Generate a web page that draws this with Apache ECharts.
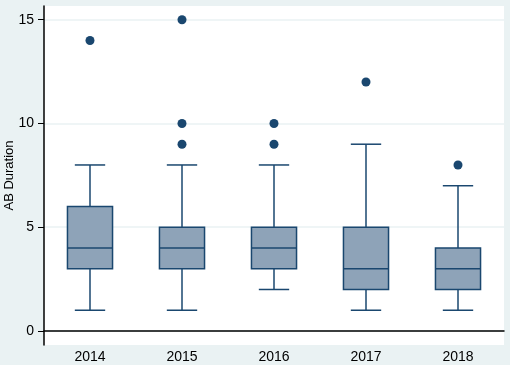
<!DOCTYPE html>
<html>
<head>
<meta charset="utf-8">
<script src="https://cdn.jsdelivr.net/npm/echarts@6/dist/echarts.min.js"></script>
<style>
  html, body { margin: 0; padding: 0; background: #eaf2f3; }
  #chart { width: 510px; height: 365px; }
</style>
</head>
<body>
<div id="chart"></div>
<script>
// years on the x axis
const years = ['2014', '2015', '2016', '2017', '2018'];
// five-number summaries per year
const whiskerLow = [1, 1, 2, 1, 1];
const q1 = [3, 3, 3, 2, 2];
const median = [4, 4, 4, 3, 3];
const q3 = [6, 5, 5, 5, 4];
const whiskerHigh = [8, 8, 8, 9, 7];
// outliers as [yearIndex, value]
const outliers = [[0, 14], [1, 9], [1, 10], [1, 15], [2, 9], [2, 10], [3, 12], [4, 8]];
const yTicks = [0, 5, 10, 15];

const navy = '#1a476f';
const boxFill = '#8ea3b8';

const boxData = years.map((y, i) => [i, whiskerLow[i], q1[i], median[i], q3[i], whiskerHigh[i]]);

const chart = echarts.init(document.getElementById('chart'), null, { renderer: 'canvas' });

chart.setOption({
  backgroundColor: '#eaf2f3',
  animation: false,
  textStyle: { fontFamily: 'Liberation Sans, Arial, sans-serif' },
  grid: {
    left: 44, right: 6, top: 6, bottom: 20,
    outerBoundsMode: 'none',
    containLabel: false,
    show: true, backgroundColor: '#ffffff', borderWidth: 0
  },
  xAxis: {
    type: 'category',
    data: years,
    boundaryGap: true,
    axisLine: { lineStyle: { color: '#000000', width: 1.5 } },
    axisTick: { show: false },
    axisLabel: { color: '#000000', fontSize: 14, margin: 5 },
    splitLine: { show: false }
  },
  yAxis: {
    type: 'value',
    min: -0.675,
    max: 15.66,
    name: 'AB Duration',
    nameLocation: 'middle',
    nameGap: 28,
    nameMoveOverlap: false,
    nameTextStyle: { color: '#000000', fontSize: 13 },
    axisLine: { show: true, lineStyle: { color: '#000000', width: 1.5 } },
    axisTick: { show: true, length: 6, customValues: yTicks, lineStyle: { color: '#000000' } },
    axisLabel: { color: '#000000', fontSize: 14, margin: 10, customValues: yTicks },
    splitLine: { show: true, lineStyle: { color: '#eaf2f3', width: 1.5 } }
  },
  series: [
    {
      type: 'custom',
      data: boxData,
      encode: { x: 0, y: [1, 2, 3, 4, 5] },
      renderItem: function (params, api) {
        const idx = api.value(0);
        const lo = api.coord([idx, api.value(1)]);
        const b1 = api.coord([idx, api.value(2)]);
        const md = api.coord([idx, api.value(3)]);
        const b3 = api.coord([idx, api.value(4)]);
        const hi = api.coord([idx, api.value(5)]);
        const band = api.size([1, 0])[0];
        const bw = band * 0.49;
        const cw = band * 0.33;
        const x = lo[0];
        const ls = { stroke: navy, lineWidth: 1.5 };
        return {
          type: 'group',
          children: [
            { type: 'line', shape: { x1: x, y1: b1[1], x2: x, y2: lo[1] }, style: ls },
            { type: 'line', shape: { x1: x, y1: b3[1], x2: x, y2: hi[1] }, style: ls },
            { type: 'line', shape: { x1: x - cw / 2, y1: lo[1], x2: x + cw / 2, y2: lo[1] }, style: ls },
            { type: 'line', shape: { x1: x - cw / 2, y1: hi[1], x2: x + cw / 2, y2: hi[1] }, style: ls },
            { type: 'rect', shape: { x: x - bw / 2, y: b3[1], width: bw, height: b1[1] - b3[1] },
              style: { fill: boxFill, stroke: navy, lineWidth: 1.5 } },
            { type: 'line', shape: { x1: x - bw / 2, y1: md[1], x2: x + bw / 2, y2: md[1] }, style: ls }
          ]
        };
      }
    },
    {
      type: 'scatter',
      data: outliers,
      symbol: 'circle',
      symbolSize: 9,
      itemStyle: { color: navy, opacity: 1 }
    }
  ]
});
</script>
</body>
</html>
